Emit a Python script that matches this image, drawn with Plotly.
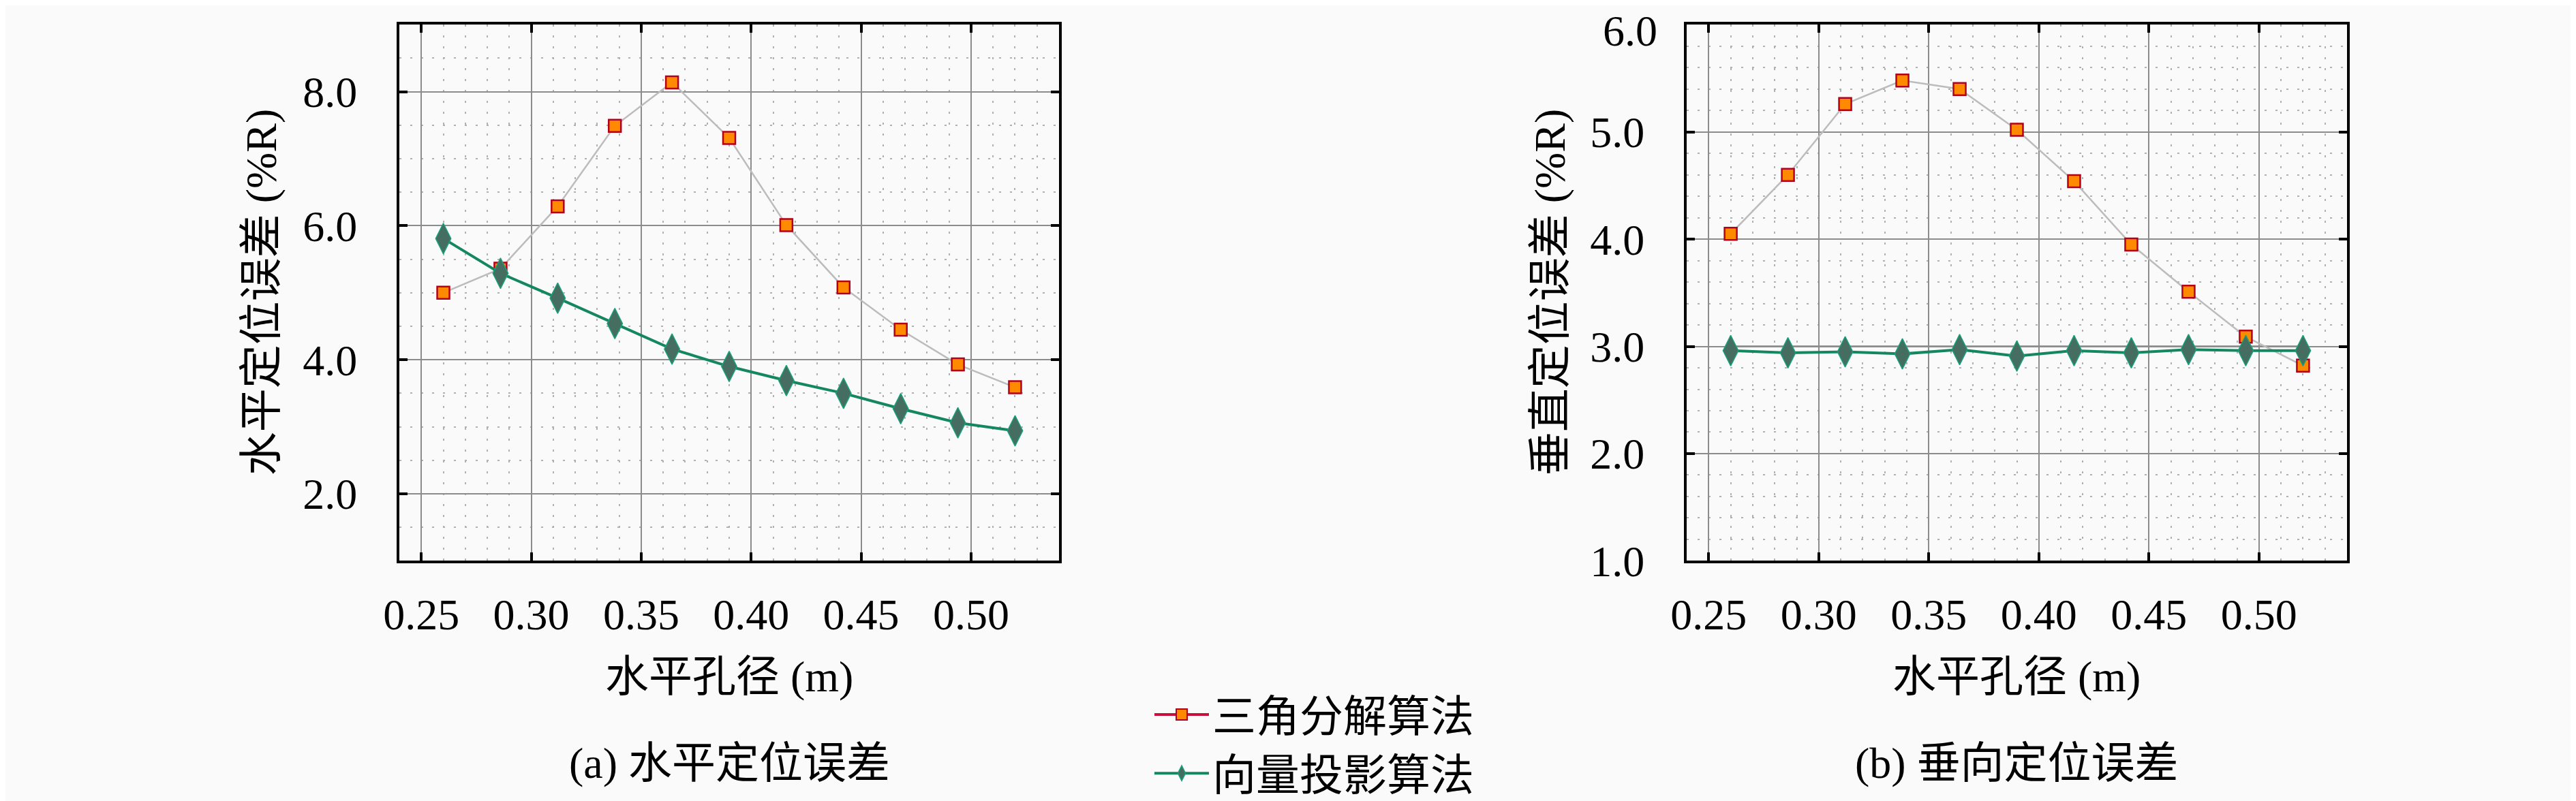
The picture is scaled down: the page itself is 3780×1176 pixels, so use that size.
import plotly.graph_objects as go

# ---------------- data ----------------
aperture = [0.26, 0.286, 0.312, 0.338, 0.364, 0.39, 0.416, 0.442, 0.468, 0.494, 0.52]

horiz_triangle = [5.00, 5.36, 6.29, 7.49, 8.14, 7.31, 6.01, 5.08, 4.45, 3.93, 3.59]
horiz_vector = [5.81, 5.29, 4.92, 4.54, 4.16, 3.90, 3.69, 3.50, 3.27, 3.06, 2.94]

vert_triangle = [4.05, 4.60, 5.26, 5.48, 5.40, 5.02, 4.54, 3.95, 3.51, 3.09, 2.82]
vert_vector = [2.96, 2.94, 2.95, 2.93, 2.97, 2.91, 2.96, 2.94, 2.97, 2.96, 2.96]
vert_ref_level = 3.0

x_ticks = [0.25, 0.30, 0.35, 0.40, 0.45, 0.50]
x_tick_text = ["0.25", "0.30", "0.35", "0.40", "0.45", "0.50"]
left_y_ticks = [2.0, 4.0, 6.0, 8.0]
left_y_text = ["2.0", "4.0", "6.0", "8.0"]
right_y_ticks = [1.0, 2.0, 3.0, 4.0, 5.0, 6.0]
right_y_text = ["1.0", "2.0", "3.0", "4.0", "5.0", "6.0"]

series_names = ["三角分解算法", "向量投影算法"]
x_title = "水平孔径 (m)"
left_y_title = "水平定位误差 (%R)"
right_y_title = "垂直定位误差 (%R)"
caption_a = "(a) 水平定位误差"
caption_b = "(b) 垂向定位误差"

# ---------------- style ----------------
W, H = 3780, 1176
FONT = "Liberation Serif, Noto Sans CJK SC, serif"
FS = 64
BG = "#fafafa"
SQ_FILL = "#ff8a00"
SQ_EDGE = "#b3001b"
SQ_LINE = "#bcbcbc"
LEG_RED = "#c8103c"
DI_FILL = "#466e60"
DI_EDGE = "#17a07a"
DI_LINE = "#15875f"

fig = go.Figure()

def add_series(xa, ya, y_tri, y_vec):
    fig.add_trace(go.Scatter(
        x=aperture, y=y_tri, xaxis=xa, yaxis=ya, mode="lines+markers",
        line=dict(color=SQ_LINE, width=2.5),
        marker=dict(symbol="square", size=18, color=SQ_FILL,
                    line=dict(color=SQ_EDGE, width=2.5)),
        showlegend=False, name=series_names[0]))
    fig.add_trace(go.Scatter(
        x=aperture, y=y_vec, xaxis=xa, yaxis=ya, mode="lines+markers",
        line=dict(color=DI_LINE, width=4),
        marker=dict(symbol="diamond-tall", size=32, color=DI_FILL,
                    line=dict(color=DI_EDGE, width=1.5)),
        showlegend=False, name=series_names[1]))

add_series("x", "y", horiz_triangle, horiz_vector)
add_series("x2", "y2", vert_triangle, vert_vector)

# legend-only entries
fig.add_trace(go.Scatter(
    x=[None], y=[None], mode="lines+markers", name=series_names[0],
    line=dict(color=LEG_RED, width=4),
    marker=dict(symbol="square", size=16, color=SQ_FILL, line=dict(color=SQ_EDGE, width=2)),
    legendgroup="a"))
fig.add_trace(go.Scatter(
    x=[None], y=[None], mode="lines+markers", name=series_names[1],
    line=dict(color=DI_LINE, width=4),
    marker=dict(symbol="diamond-tall", size=16, color=DI_FILL, line=dict(color=DI_EDGE, width=1.5)),
    legendgroup="b"))

# thin dark-red reference line at 3.0 in panel (b)
fig.add_shape(type="line", xref="x2", yref="y2", x0=aperture[0], x1=aperture[-1],
              y0=vert_ref_level, y1=vert_ref_level, layer="below",
              line=dict(color="#8a2a3a", width=2))

def xaxis_cfg(domain, anchor):
    return dict(
        domain=domain, anchor=anchor, range=[0.24, 0.54], automargin=False,
        tickmode="array", tickvals=x_ticks, ticktext=x_tick_text,
        ticks="inside", ticklen=12, tickwidth=4, tickcolor="black",
        showline=True, linecolor="black", linewidth=4, mirror="allticks",
        showgrid=True, gridcolor="#8c8c8c", gridwidth=2,
        minor=dict(dtick=0.01, tick0=0.25, showgrid=True, gridcolor="#b0b0b0",
                   gridwidth=2, griddash="3px,13px"),
        tickfont=dict(family=FONT, size=FS, color="black"),
        ticklabelstandoff=20, zeroline=False)

def yaxis_cfg(anchor, rng, tv, tt, minor_dtick):
    return dict(
        domain=[1 - 836 / H, 1 - 29 / H], anchor=anchor, range=rng, automargin=False,
        tickmode="array", tickvals=tv, ticktext=tt,
        ticks="inside", ticklen=12, tickwidth=4, tickcolor="black",
        showline=True, linecolor="black", linewidth=4, mirror="allticks",
        showgrid=True, gridcolor="#8c8c8c", gridwidth=2,
        minor=dict(dtick=minor_dtick, tick0=tv[0], showgrid=True, gridcolor="#b0b0b0",
                   gridwidth=2, griddash="3px,13px"),
        tickfont=dict(family=FONT, size=FS, color="black"),
        ticklabelstandoff=45, zeroline=False)

# the top tick label of panel (b) sits at the very top edge of the page;
# it is written as an annotation anchored inside the page so it is not clipped
right_axis_labels = right_y_text[:-1] + [""]

fig.update_layout(
    width=W, height=H, autosize=False,
    margin=dict(l=0, r=0, t=0, b=0),
    paper_bgcolor=BG, plot_bgcolor=BG,
    font=dict(family=FONT, size=FS, color="black"),
    xaxis=xaxis_cfg([578 / W, 1546 / W], "y"),
    yaxis=yaxis_cfg("x", [1.0, 9.0], left_y_ticks, left_y_text, 0.5),
    xaxis2=xaxis_cfg([2467 / W, 3436 / W], "y2"),
    yaxis2=yaxis_cfg("x2", [0.9999, 6.0001], right_y_ticks, right_axis_labels, 0.2),
    legend=dict(x=1681 / W, y=1 - 1018 / H, xanchor="left", yanchor="top",
                bgcolor="rgba(0,0,0,0)", font=dict(family=FONT, size=FS),
                tracegroupgap=0, itemsizing="trace", itemwidth=80),
)

def ann(text, x, y, angle=0, xanchor="center", yanchor="middle"):
    fig.add_annotation(text=text, x=x / W, y=1 - y / H, xref="paper", yref="paper",
                       xanchor=xanchor, yanchor=yanchor, showarrow=False,
                       textangle=angle, font=dict(family=FONT, size=FS, color="black"))

ann(right_y_text[-1], 2426, 0, xanchor="right", yanchor="top")
ann(x_title, 1062, 1010)
ann(x_title, 2951, 1010)
ann(left_y_title, 375, 432, -90)
ann(right_y_title, 2266, 432, -90)
ann(caption_a, 1062, 1141)
ann(caption_b, 2951, 1141)

fig.write_html("out.html")
